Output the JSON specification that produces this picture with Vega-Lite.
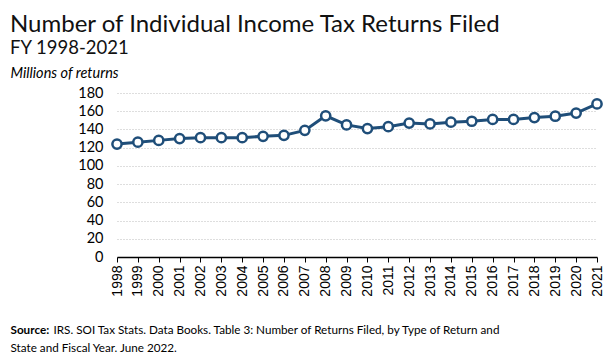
{
  "$schema": "https://vega.github.io/schema/vega-lite/v6.json",
  "autosize": {"type": "none"},
  "padding": {"left": 117, "top": 93, "right": 11, "bottom": 104},
  "width": 480,
  "height": 164,
  "background": "white",
  "config": {"view": {"stroke": null}},
  "title": {
    "text": "Number of Individual Income Tax Returns Filed",
    "subtitle": "FY 1998-2021",
    "anchor": "start",
    "frame": "group",
    "dx": -107,
    "offset": 8,
    "font": "Lato",
    "fontSize": 24,
    "fontWeight": "normal",
    "color": "#111111",
    "subtitleFont": "Lato",
    "subtitleFontSize": 18.5,
    "subtitleColor": "#111111",
    "subtitlePadding": 2
  },
  "data": {
    "values": [
      {"year": "1998", "returns": 124},
      {"year": "1999", "returns": 126},
      {"year": "2000", "returns": 128},
      {"year": "2001", "returns": 130},
      {"year": "2002", "returns": 131},
      {"year": "2003", "returns": 131},
      {"year": "2004", "returns": 131},
      {"year": "2005", "returns": 132.5},
      {"year": "2006", "returns": 133.5},
      {"year": "2007", "returns": 139},
      {"year": "2008", "returns": 155},
      {"year": "2009", "returns": 145},
      {"year": "2010", "returns": 141},
      {"year": "2011", "returns": 143},
      {"year": "2012", "returns": 147},
      {"year": "2013", "returns": 146},
      {"year": "2014", "returns": 148},
      {"year": "2015", "returns": 149},
      {"year": "2016", "returns": 151},
      {"year": "2017", "returns": 151},
      {"year": "2018", "returns": 153},
      {"year": "2019", "returns": 154.5},
      {"year": "2020", "returns": 158},
      {"year": "2021", "returns": 168}
    ]
  },
  "layer": [
    {
      "mark": {"type": "line", "color": "#1f4e79", "strokeWidth": 3},
      "encoding": {
        "x": {
          "field": "year",
          "type": "ordinal",
          "scale": {"type": "point", "padding": 0},
          "axis": {
            "orient": "bottom",
            "labelAngle": -90,
            "labelAlign": "right",
            "labelBaseline": "middle",
            "labelFont": "Liberation Sans",
            "labelFontSize": 14,
            "labelColor": "#000000",
            "labelPadding": 3,
            "tickSize": 5,
            "tickColor": "#000000",
            "domainColor": "#000000",
            "domainWidth": 1.5,
            "grid": false,
            "title": "IRS. SOI Tax Stats. Data Books. Table 3: Number of Returns Filed, by Type of Return and",
            "titleFont": "Lato",
            "titleFontSize": 11.7,
            "titleFontWeight": "normal",
            "titleColor": "#000000",
            "titleAngle": 0,
            "titleAlign": "left",
            "titleBaseline": "alphabetic",
            "titleX": -64,
            "titleY": 76
          }
        },
        "y": {
          "field": "returns",
          "type": "quantitative",
          "scale": {"domain": [0, 180], "nice": false},
          "axis": {
            "orient": "left",
            "values": [0, 20, 40, 60, 80, 100, 120, 140, 160, 180],
            "labelFont": "Lato",
            "labelFontSize": 14.5,
            "labelColor": "#000000",
            "labelPadding": 14,
            "ticks": false,
            "tickSize": 0,
            "domain": false,
            "grid": true,
            "gridColor": "#bdbdbd",
            "gridDash": [1, 2],
            "gridWidth": 1,
            "title": "Millions of returns",
            "titleFont": "Lato",
            "titleFontSize": 14.5,
            "titleFontStyle": "italic",
            "titleFontWeight": "normal",
            "titleColor": "#000000",
            "titleAngle": 0,
            "titleAlign": "left",
            "titleBaseline": "alphabetic",
            "titleX": -107,
            "titleY": -16
          }
        }
      }
    },
    {
      "mark": {"type": "point", "filled": true, "fill": "white", "stroke": "#1f4e79", "strokeWidth": 2.5, "size": 85, "opacity": 1},
      "encoding": {
        "x": {
          "field": "year",
          "type": "ordinal",
          "scale": {"type": "point", "padding": 0},
          "axis": {
            "orient": "top",
            "labels": false,
            "ticks": false,
            "domain": false,
            "grid": false,
            "title": "State and Fiscal Year. June 2022.",
            "titleFont": "Lato",
            "titleFontSize": 11.7,
            "titleFontWeight": "normal",
            "titleColor": "#000000",
            "titleAngle": 0,
            "titleAlign": "left",
            "titleBaseline": "alphabetic",
            "titleX": -107,
            "titleY": 258
          }
        },
        "y": {
          "field": "returns",
          "type": "quantitative",
          "scale": {"domain": [0, 180], "nice": false},
          "axis": {
            "orient": "right",
            "labels": false,
            "ticks": false,
            "domain": false,
            "grid": false,
            "title": "Source:",
            "titleFont": "Lato",
            "titleFontSize": 11.7,
            "titleFontWeight": "bold",
            "titleColor": "#000000",
            "titleAngle": 0,
            "titleAlign": "left",
            "titleBaseline": "alphabetic",
            "titleX": -587,
            "titleY": 240
          }
        }
      }
    }
  ],
  "resolve": {
    "scale": {"x": "independent", "y": "independent"},
    "axis": {"x": "independent", "y": "independent"}
  }
}
